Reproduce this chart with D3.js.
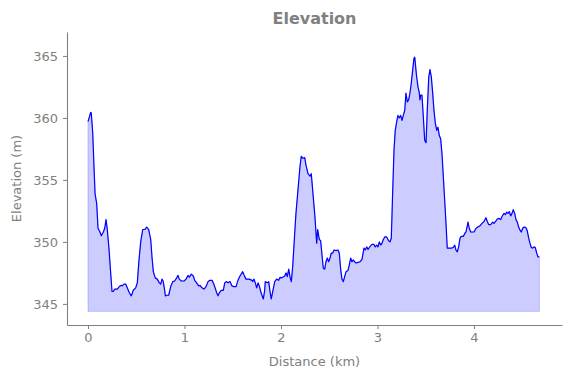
<!DOCTYPE html>
<html>
<head>
<meta charset="utf-8">
<script src="https://cdn.jsdelivr.net/npm/d3@7"></script>
<style>
  body { margin: 0; background: #fff; }
  text { font-family: "DejaVu Sans", sans-serif; fill: #808080; }
</style>
</head>
<body>
<svg id="chart" width="571" height="378"></svg>
<script>
// distance along route (km)
var distance = [0.000,0.028,0.034,0.049,0.062,0.073,0.090,0.104,0.124,0.138,0.159,0.173,0.187,0.200,0.218,0.235,0.249,0.262,0.277,0.304,
  0.324,0.345,0.355,0.373,0.391,0.407,0.428,0.449,0.469,0.494,0.511,0.528,0.546,0.567,0.588,0.608,0.629,0.650,0.663,0.677,
  0.697,0.718,0.739,0.753,0.767,0.778,0.789,0.802,0.816,0.836,0.857,0.878,0.898,0.919,0.933,0.946,0.967,0.995,1.016,1.036,
  1.050,1.070,1.091,1.106,1.126,1.147,1.161,1.181,1.202,1.223,1.244,1.264,1.285,1.298,1.313,1.334,1.347,1.361,1.381,1.402,
  1.417,1.437,1.451,1.472,1.492,1.513,1.534,1.554,1.575,1.603,1.624,1.637,1.672,1.699,1.707,1.720,1.734,1.748,1.762,1.775,
  1.790,1.803,1.817,1.831,1.837,1.858,1.873,1.886,1.899,1.914,1.935,1.955,1.976,1.990,2.003,2.018,2.038,2.052,2.065,2.080,
  2.093,2.107,2.121,2.142,2.155,2.176,2.197,2.210,2.225,2.246,2.259,2.280,2.301,2.314,2.334,2.352,2.370,2.380,2.397,2.411,
  2.425,2.438,2.453,2.466,2.480,2.494,2.508,2.521,2.536,2.549,2.570,2.591,2.604,2.619,2.632,2.646,2.660,2.674,2.694,2.708,
  2.722,2.736,2.749,2.764,2.777,2.798,2.819,2.839,2.860,2.874,2.888,2.902,2.915,2.930,2.943,2.964,2.977,2.992,3.005,3.019,
  3.033,3.047,3.060,3.075,3.095,3.116,3.130,3.143,3.158,3.171,3.184,3.199,3.212,3.226,3.240,3.254,3.267,3.282,3.295,3.309,
  3.323,3.337,3.350,3.365,3.378,3.386,3.392,3.406,3.420,3.433,3.440,3.448,3.461,3.475,3.489,3.503,3.516,3.531,3.544,3.558,
  3.572,3.585,3.599,3.614,3.627,3.640,3.655,3.668,3.682,3.696,3.710,3.723,3.744,3.765,3.785,3.800,3.813,3.827,3.841,3.855,
  3.868,3.889,3.910,3.917,3.938,3.951,3.966,4.000,4.021,4.041,4.062,4.083,4.104,4.124,4.138,4.152,4.173,4.194,4.207,4.228,
  4.241,4.256,4.277,4.290,4.311,4.324,4.339,4.352,4.366,4.380,4.394,4.407,4.422,4.435,4.449,4.463,4.477,4.490,4.505,4.518,
  4.539,4.552,4.567,4.580,4.594,4.608,4.622,4.635,4.650,4.663,4.677];

// elevation (m)
var elevation = [359.7,360.45,360.4,358.8,356.1,353.9,353.1,351.1,350.8,350.5,350.8,351.1,351.8,351.0,349.4,347.5,346.0,346.0,346.2,346.2,
  346.4,346.5,346.45,346.6,346.6,346.3,345.9,345.65,346.1,346.3,346.7,348.5,350.0,351.0,351.0,351.2,351.0,350.2,348.8,347.6,
  347.1,347.0,346.7,346.6,347.0,346.85,346.4,345.65,345.7,345.7,346.4,346.8,346.85,347.1,347.3,347.0,346.85,346.85,347.0,347.3,
  347.15,347.4,347.25,346.9,346.7,346.45,346.5,346.3,346.2,346.4,346.8,346.9,346.9,346.7,346.4,345.9,345.65,345.9,346.1,346.1,
  346.7,346.8,346.7,346.8,346.45,346.4,346.4,346.9,347.25,347.6,347.2,347.0,347.0,346.9,346.8,347.0,346.7,346.3,346.7,346.45,
  346.0,345.7,345.4,346.1,346.8,346.7,346.8,346.0,345.4,346.0,346.8,347.0,346.9,347.15,347.1,347.15,347.25,347.5,347.2,347.8,
  347.2,346.8,348.0,350.7,352.3,354.2,356.1,356.9,356.75,356.8,356.2,355.5,355.3,355.5,353.65,352.0,349.9,351.0,350.2,350.1,
  348.95,347.9,347.8,348.4,348.7,348.4,348.7,349.1,349.1,349.35,349.3,349.35,349.1,347.75,347.0,346.8,347.2,347.6,347.7,348.15,
  348.7,348.4,348.55,348.4,348.3,348.35,348.4,348.6,349.5,349.35,349.6,349.4,349.55,349.7,349.8,349.8,349.6,349.75,349.6,350.0,
  349.75,349.9,350.2,350.4,350.4,350.1,350.0,350.3,354.2,357.4,359.0,359.7,360.2,360.0,360.2,359.8,360.2,360.6,362.0,361.3,
  361.45,362.05,362.8,363.9,364.8,364.9,364.4,363.3,362.5,362.05,361.45,361.85,361.85,360.1,358.2,358.0,360.65,363.3,363.9,363.3,
  362.0,360.65,359.6,359.0,359.25,358.6,358.3,357.15,355.3,353.4,351.5,349.5,349.5,349.5,349.55,349.75,349.35,349.2,349.6,350.3,
  350.45,350.45,350.75,350.8,351.6,351.1,350.8,350.8,351.1,351.2,351.3,351.5,351.65,351.95,351.65,351.4,351.4,351.6,351.5,351.7,
  351.85,351.9,351.8,352.05,352.3,352.2,352.4,352.3,352.45,352.1,352.3,352.6,352.3,351.8,351.6,351.2,350.95,350.8,351.1,351.2,
  351.15,350.9,350.3,349.9,349.55,349.5,349.6,349.55,349.1,348.8,348.8];

var xTicks = [0, 1, 2, 3, 4];
var yTicks = [345, 350, 355, 360, 365];
var fillBase = 344.4;

var svg = d3.select("#chart");
var margin = {top: 32, right: 9, bottom: 53, left: 67};
var width = 571 - margin.left - margin.right;
var height = 378 - margin.top - margin.bottom;

var x = d3.scaleLinear().domain([-0.2176, 4.912]).range([0, width]);
var y = d3.scaleLinear().domain([343.3, 366.93]).range([height, 0]);

var data = distance.map(function (d, i) { return {d: d, e: elevation[i]}; });

var g = svg.append("g")
    .attr("transform", "translate(" + margin.left + "," + margin.top + ")");

var area = d3.area()
    .x(function (d) { return x(d.d); })
    .y0(y(fillBase))
    .y1(function (d) { return y(d.e); });

g.append("path")
    .datum(data)
    .attr("d", area)
    .attr("fill", "blue")
    .attr("fill-opacity", 0.2)
    .attr("stroke", "blue")
    .attr("stroke-opacity", 0.2)
    .attr("stroke-width", 1);

var line = d3.line()
    .x(function (d) { return x(d.d); })
    .y(function (d) { return y(d.e); });

g.append("path")
    .datum(data)
    .attr("d", line)
    .attr("fill", "none")
    .attr("stroke", "blue")
    .attr("stroke-width", 1.2)
    .attr("stroke-linejoin", "round");

// axes
var xAxis = g.append("g")
    .attr("transform", "translate(0," + height + ")")
    .call(d3.axisBottom(x).tickValues(xTicks).tickFormat(d3.format("d"))
        .tickSize(4).tickSizeOuter(0).tickPadding(4));
var yAxis = g.append("g")
    .call(d3.axisLeft(y).tickValues(yTicks).tickFormat(d3.format("d"))
        .tickSize(4).tickSizeOuter(0).tickPadding(5));

[xAxis, yAxis].forEach(function (a) {
    a.select(".domain").attr("stroke", "#808080").attr("stroke-width", 1.1);
    a.selectAll(".tick line").attr("stroke", "#808080");
    a.selectAll(".tick text")
        .style("font-family", "DejaVu Sans")
        .style("font-size", "13px")
        .attr("fill", "#808080");
});

svg.append("text")
    .attr("x", margin.left + width / 2)
    .attr("y", 24)
    .attr("text-anchor", "middle")
    .style("font-size", "16px")
    .style("font-weight", "bold")
    .text("Elevation");

svg.append("text")
    .attr("x", margin.left + width / 2)
    .attr("y", 366)
    .attr("text-anchor", "middle")
    .style("font-size", "13px")
    .text("Distance (km)");

svg.append("text")
    .attr("transform", "translate(21," + (margin.top + height / 2) + ") rotate(-90)")
    .attr("text-anchor", "middle")
    .style("font-size", "13px")
    .text("Elevation (m)");
</script>
</body>
</html>
